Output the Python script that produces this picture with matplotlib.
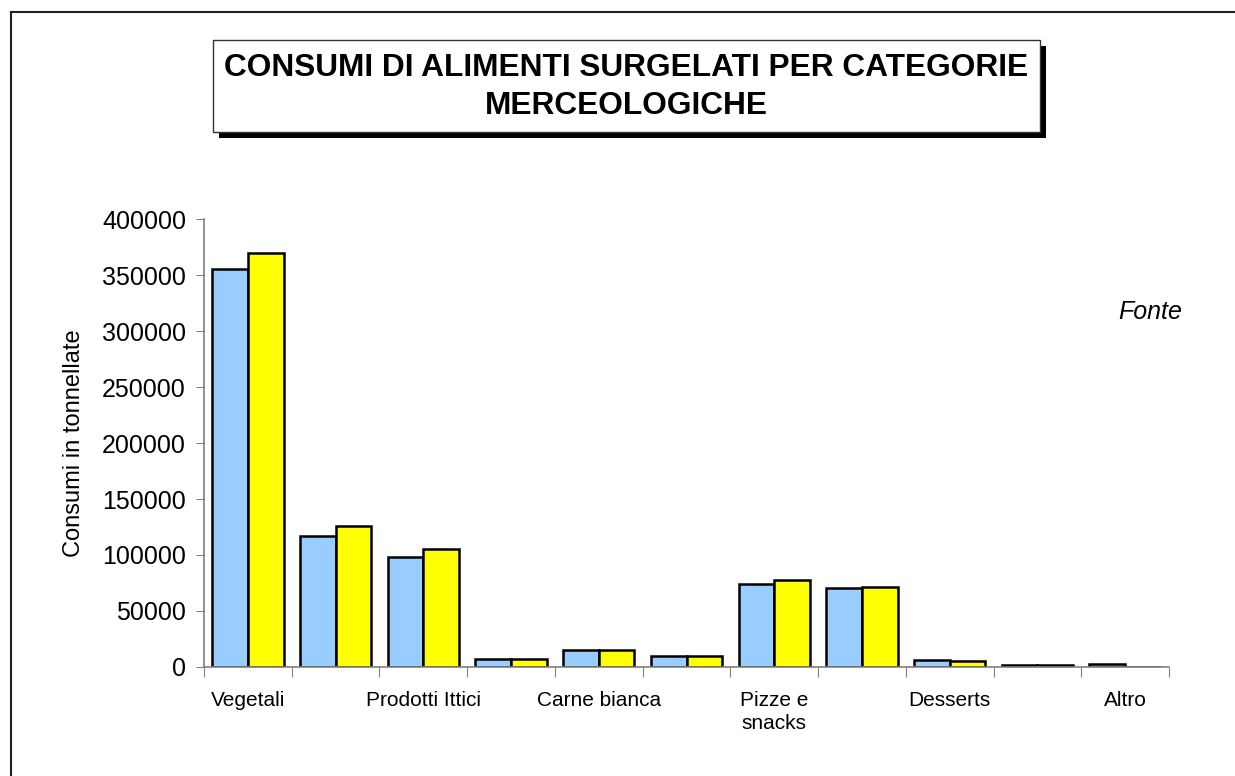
import matplotlib

matplotlib.use("Agg")
import matplotlib.pyplot as plt
import numpy as np
from matplotlib.patches import Rectangle

plt.rcParams["font.family"] = ["Liberation Sans", "DejaVu Sans"]

# ── Data (tonnellate) ─────────────────────────────────────────────────
categories = ["Vegetali", "", "Prodotti Ittici", "", "Carne bianca", "",
              "Pizze e\nsnacks", "", "Desserts", "", "Altro"]
serie_a = [355000, 117000, 98000, 7500, 15500, 10000, 74000, 70500, 6300, 1500, 2500]
serie_b = [370000, 126000, 105000, 7500, 15300, 9600, 77500, 71000, 5800, 1500, 0]

BLUE = "#99CCFF"
YELLOW = "#FFFF00"
GRAY = "#808080"

W, H = 1235, 776
fig = plt.figure(figsize=(W / 100, H / 100), dpi=100)

# outer frame (top and left edges only)
fig.add_artist(plt.Line2D([11 / W, 1], [1 - 12 / H, 1 - 12 / H], color="#222222", lw=1.5))
fig.add_artist(plt.Line2D([11 / W, 11 / W], [0, 1 - 12 / H], color="#222222", lw=1.5))

# ── Title box with shadow ─────────────────────────────────────────────
bx0, bx1, by0, by1 = 213, 1040, 40, 132
sh = 6
fig.add_artist(Rectangle(((bx0 + sh) / W, 1 - (by1 + sh) / H), (bx1 - bx0) / W,
                         (by1 - by0) / H, transform=fig.transFigure,
                         facecolor="black", edgecolor="none"))
fig.add_artist(Rectangle((bx0 / W, 1 - by1 / H), (bx1 - bx0) / W, (by1 - by0) / H,
                         transform=fig.transFigure, facecolor="white",
                         edgecolor="#333333", lw=1))
fig.text((bx0 + bx1) / 2 / W, 1 - 87 / H,
         "CONSUMI DI ALIMENTI SURGELATI PER CATEGORIE\nMERCEOLOGICHE",
         ha="center", va="center", fontsize=22.8, fontweight="bold",
         linespacing=1.38)

# ── Bars ──────────────────────────────────────────────────────────────
ax = fig.add_axes([204 / W, 1 - 667 / H, (1169 - 204) / W, (667 - 219) / H])
x = np.arange(len(categories))
bw = 0.407
ax.bar(x - bw / 2, serie_a, bw, color=BLUE, edgecolor="black", linewidth=1.8)
ax.bar(x + bw / 2, serie_b, bw, color=YELLOW, edgecolor="black", linewidth=1.8)

ax.set_xlim(-0.5, len(categories) - 0.5)
ax.set_ylim(0, 400000)
ax.set_yticks(np.arange(0, 400001, 50000))
ax.tick_params(axis="y", labelsize=18, length=6, color=GRAY, pad=7)

ax.set_xticks(np.arange(-0.5, len(categories), 1.0))
ax.set_xticklabels([])
ax.set_xticks(x, categories, minor=True)
ax.tick_params(axis="x", which="major", length=7, color=GRAY)
ax.tick_params(axis="x", which="minor", length=0, labelsize=15, pad=17)
for lab in ax.get_xticklabels(minor=True):
    lab.set_verticalalignment("top")
    lab.set_linespacing(1.3)

for side in ("top", "right"):
    ax.spines[side].set_visible(False)
for side in ("left", "bottom"):
    ax.spines[side].set_color(GRAY)
    ax.spines[side].set_linewidth(1.2)

ax.set_ylabel("Consumi in tonnellate", fontsize=17, labelpad=12)

fig.text(1150 / W, 1 - 312 / H, "Fonte", fontsize=18, style="italic",
         ha="center", va="center")

fig.savefig("out.png", dpi=100)
